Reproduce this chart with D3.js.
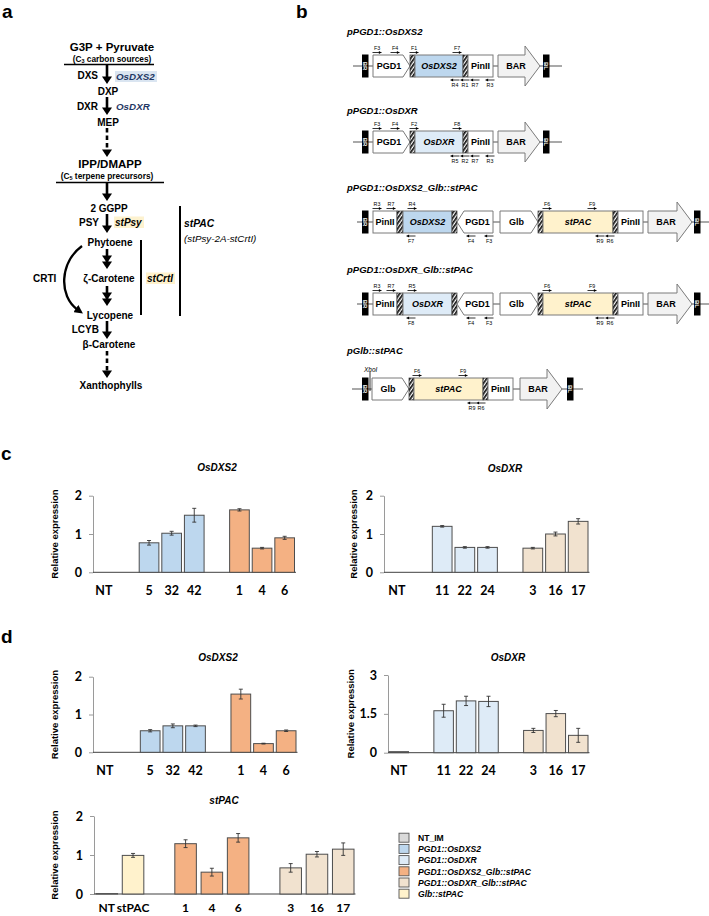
<!DOCTYPE html>
<html><head><meta charset="utf-8">
<script src="https://cdn.jsdelivr.net/npm/d3@7"></script>
<style>body{margin:0;background:#fff} svg{display:block}</style>
</head><body>
<svg id="fig" width="709" height="916" xmlns="http://www.w3.org/2000/svg"></svg>
<script>
// ---------------- DATA ----------------
const legendLabels = ["NT_IM","PGD1::OsDXS2","PGD1::OsDXR","PGD1::OsDXS2_Glb::stPAC","PGD1::OsDXR_Glb::stPAC","Glb::stPAC"];
const legendColors = ["#d9d9d9","#bdd7ee","#deebf7","#f4b183","#f1e2cf","#fff2cc"];

const dxs2Cats = ["NT","gapA","5","32","42","gapB","1","4","6"];
const dxs2Groups = ["NT_IM",null,"PGD1::OsDXS2","PGD1::OsDXS2","PGD1::OsDXS2",null,"PGD1::OsDXS2_Glb::stPAC","PGD1::OsDXS2_Glb::stPAC","PGD1::OsDXS2_Glb::stPAC"];
const dxrCats = ["NT","gapA","11","22","24","gapB","3","16","17"];
const dxrGroups = ["NT_IM",null,"PGD1::OsDXR","PGD1::OsDXR","PGD1::OsDXR",null,"PGD1::OsDXR_Glb::stPAC","PGD1::OsDXR_Glb::stPAC","PGD1::OsDXR_Glb::stPAC"];

const cDXS2Vals = [0,null,0.77,1.02,1.49,null,1.63,0.63,0.90];
const cDXS2Errs = [0,null,0.06,0.05,0.18,null,0.03,0.02,0.04];
const cDXRVals  = [0,null,1.20,0.65,0.65,null,0.63,1.00,1.33];
const cDXRErrs  = [0,null,0.02,0.02,0.02,null,0.02,0.05,0.07];

const dDXS2Vals = [0,null,0.57,0.70,0.70,null,1.54,0.23,0.57];
const dDXS2Errs = [0,null,0.03,0.05,0.02,null,0.13,0.01,0.02];
const dDXRVals  = [0.04,null,1.62,2.00,1.98,null,0.86,1.51,0.67];
const dDXRErrs  = [0,null,0.25,0.18,0.20,null,0.08,0.12,0.27];

const stPACCats = ["NT","stPAC","gapA","1","4","6","gapB","3","16","17"];
const stPACGroups = ["NT_IM","Glb::stPAC",null,"PGD1::OsDXS2_Glb::stPAC","PGD1::OsDXS2_Glb::stPAC","PGD1::OsDXS2_Glb::stPAC",null,"PGD1::OsDXR_Glb::stPAC","PGD1::OsDXR_Glb::stPAC","PGD1::OsDXR_Glb::stPAC"];
const stPACVals = [0.01,0.99,null,1.29,0.56,1.44,null,0.67,1.02,1.15];
const stPACErrs = [0,0.05,null,0.10,0.10,0.11,null,0.11,0.07,0.16];

const ticks2 = [0,1,2];
const ticks3 = [0,1.5,3];

// ---------------- SETUP ----------------
const svg = d3.select("#fig");
const ARIAL = "'Liberation Sans', Arial, Helvetica, sans-serif";
const CAL = "Lato, 'Open Sans', sans-serif";
const color = d3.scaleOrdinal().domain(legendLabels).range(legendColors);

const defs = svg.append("defs");
const pat = defs.append("pattern").attr("id","hatch").attr("width",3).attr("height",3)
  .attr("patternUnits","userSpaceOnUse").attr("patternTransform","rotate(35)");
pat.append("rect").attr("width",3).attr("height",3).attr("fill","#fff");
pat.append("rect").attr("width",1.7).attr("height",3).attr("fill","#111");
defs.append("marker").attr("id","ah").attr("viewBox","0 0 10 10").attr("refX",3).attr("refY",5)
  .attr("markerWidth",3.6).attr("markerHeight",3.6).attr("orient","auto")
  .append("path").attr("d","M0,0 L10,5 L0,10 Z").attr("fill","#000");

// panel letters
[["a",2,17.5],["b",296,17.5],["c",1,460],["d",1,643]].forEach(([t,x,y])=>{
  svg.append("text").attr("x",x).attr("y",y).text(t).attr("font-family",ARIAL)
    .attr("font-weight","bold").attr("font-size",19);
});

// ---------------- PANEL A ----------------
const A = svg.append("g").attr("font-family",ARIAL).attr("font-weight","bold");
function txt(g,x,y,s,size,anchor,opts={}){
  const t = g.append("text").attr("x",x).attr("y",y).attr("font-size",size)
    .attr("text-anchor",anchor||"start").text(s);
  if(opts.italic) t.attr("font-style","italic");
  if(opts.weight) t.attr("font-weight",opts.weight);
  if(opts.fill) t.attr("fill",opts.fill);
  return t;
}
function vArrow(x,y1,y2,opts={}){
  const hh=7.5;
  A.append("line").attr("x1",x).attr("x2",x).attr("y1",y1).attr("y2",y2-hh+1)
    .attr("stroke","#000").attr("stroke-width",2.6)
    .attr("stroke-dasharray",opts.dashed?"4.5,3":null);
  A.append("path").attr("d",`M${x-5},${y2-hh} L${x+5},${y2-hh} L${x},${y2} Z`).attr("fill","#000");
  if(opts.double){
    A.append("path").attr("d",`M${x-5},${y2-hh-6} L${x+5},${y2-hh-6} L${x},${y2-6} Z`).attr("fill","#000");
  }
}
function hl(x,y,w,h,fill){A.append("rect").attr("x",x).attr("y",y).attr("width",w).attr("height",h).attr("fill",fill);}

txt(A,112,51,"G3P + Pyruvate",11.5,"middle");
const t1 = txt(A,112,61.5,"(C",8.3,"middle");
t1.append("tspan").attr("font-size",5.5).attr("dy",1.5).text("3");
t1.append("tspan").attr("dy",-1.5).text(" carbon sources)");
A.append("line").attr("x1",64).attr("x2",154).attr("y1",64.5).attr("y2",64.5).attr("stroke","#000").attr("stroke-width",1.6);
txt(A,98,79,"DXS",10,"end");
vArrow(107,65,84);
hl(115,71,42,11,"#dae5f1");
txt(A,116,79.5,"OsDXS2",9.8,"start",{italic:true,fill:"#1f3864"});
txt(A,108,94.5,"DXP",10,"middle");
txt(A,98,109.5,"DXR",10,"end");
vArrow(107,97,115);
txt(A,116,110,"OsDXR",9.8,"start",{italic:true,fill:"#1f3864"});
txt(A,108,125.5,"MEP",10,"middle");
vArrow(107,128,157,{dashed:true});
txt(A,110,167.5,"IPP/DMAPP",11.5,"middle");
const t2 = txt(A,107,178.5,"(C",8.3,"middle");
t2.append("tspan").attr("font-size",5.5).attr("dy",1.5).text("5");
t2.append("tspan").attr("dy",-1.5).text(" terpene precursors)");
A.append("line").attr("x1",56).attr("x2",164).attr("y1",182.5).attr("y2",182.5).attr("stroke","#000").attr("stroke-width",1.6);
vArrow(107,183,201);
txt(A,109,211.5,"2 GGPP",10,"middle");
txt(A,99,225.5,"PSY",10,"end");
vArrow(107,214,233);
hl(114,216.5,30,11.5,"#fdf2cf");
txt(A,115,225.5,"stPsy",10,"start",{italic:true});
txt(A,110,245.5,"Phytoene",10,"middle");
vArrow(107,249,269,{double:true});
txt(A,109,281.5,"ζ-Carotene",10,"middle");
vArrow(107,286,306,{double:true});
txt(A,110,318.5,"Lycopene",10,"middle");
txt(A,99,332.5,"LCYB",10,"end");
vArrow(107,321,339);
txt(A,109,347.5,"β-Carotene",10,"middle");
vArrow(107,351,378,{dashed:true});
txt(A,111,388.5,"Xanthophylls",10,"middle");
txt(A,33,281.5,"CRTI",10,"start");
A.append("path").attr("d","M82,246 C60,262 58,296 78,310").attr("fill","none")
  .attr("stroke","#000").attr("stroke-width",2.4).attr("marker-end","url(#ah)");
A.append("line").attr("x1",141).attr("x2",141).attr("y1",240).attr("y2",315).attr("stroke","#000").attr("stroke-width",2);
hl(146,272.5,29,11.5,"#fff2cc");
txt(A,147,281.5,"stCrtI",10,"start",{italic:true});
A.append("line").attr("x1",180).attr("x2",180).attr("y1",206).attr("y2",316).attr("stroke","#000").attr("stroke-width",2);
txt(A,184,226.5,"stPAC",10.3,"start",{italic:true});
txt(A,184,241.5,"(stPsy-2A-stCrtI)",9.8,"start",{italic:true,weight:"normal"});

// ---------------- PANEL B ----------------
const B = svg.append("g").attr("font-family",ARIAL).attr("font-weight","bold");
const H = 11;
function bLine(x0,x1,cy){B.append("line").attr("x1",x0).attr("x2",x1).attr("y1",cy).attr("y2",cy).attr("stroke","#555").attr("stroke-width",1.2);}
function bBorder(x0,cy,lab){
  B.append("rect").attr("x",x0).attr("y",cy-11.5).attr("width",6.5).attr("height",23).attr("fill","#000");
  B.append("text").attr("transform",`translate(${x0+3.25},${cy}) rotate(90)`).attr("text-anchor","middle")
    .attr("dy","0.35em").attr("font-size",6).attr("fill","#fff").text(lab);
}
function bLabel(x,cy,lab,it){
  const t=B.append("text").attr("x",x).attr("y",cy+3.2).attr("text-anchor","middle").attr("font-size",9).text(lab);
  if(it) t.attr("font-style","italic");
}
function bBox(x0,x1,cy,fill,lab,it){
  B.append("rect").attr("x",x0).attr("y",cy-H).attr("width",x1-x0).attr("height",2*H).attr("fill",fill).attr("stroke","#7a7a7a").attr("stroke-width",1);
  bLabel((x0+x1)/2,cy,lab,it);
}
function bPent(x0,x1,cy,dir,lab){
  const p = dir>0 ? `M${x0},${cy-H} L${x1-7},${cy-H} L${x1},${cy} L${x1-7},${cy+H} L${x0},${cy+H} Z`
                  : `M${x0},${cy} L${x0+7},${cy-H} L${x1},${cy-H} L${x1},${cy+H} L${x0+7},${cy+H} Z`;
  B.append("path").attr("d",p).attr("fill","#fff").attr("stroke","#7a7a7a").attr("stroke-width",1);
  bLabel((x0+x1)/2+(dir>0?-2.5:2.5),cy,lab,false);
}
function bHatch(x0,x1,cy){
  B.append("rect").attr("x",x0).attr("y",cy-H).attr("width",x1-x0).attr("height",2*H).attr("fill","url(#hatch)").attr("stroke","#333").attr("stroke-width",0.7);
}
function bBar(x0,x1,cy){
  const xh=x1-15;
  B.append("path").attr("d",`M${x0},${cy-H} L${xh},${cy-H} L${xh},${cy-20} L${x1},${cy} L${xh},${cy+20} L${xh},${cy+H} L${x0},${cy+H} Z`)
    .attr("fill","#f2f2f2").attr("stroke","#7a7a7a").attr("stroke-width",1);
  bLabel(x0+18,cy,"BAR",false);
}
function primer(x,cy,lab,top){
  const ya = top? cy-13.5 : cy+14;
  const dir = top? 1 : -1;
  B.append("line").attr("x1",x-4.5).attr("x2",x+4.5).attr("y1",ya).attr("y2",ya).attr("stroke","#000").attr("stroke-width",0.8);
  const tip = x+4.5*dir;
  B.append("path").attr("d",`M${tip},${ya} L${tip-2.6*dir},${ya-1.6} L${tip-2.6*dir},${ya+1.6} Z`).attr("fill","#000");
  B.append("text").attr("x",x).attr("y",top?cy-15.8:cy+20.5).attr("text-anchor","middle")
    .attr("font-size",5.3).attr("font-weight","normal").text(lab);
}
function bTitle(y,s){B.append("text").attr("x",347).attr("y",y).attr("font-size",9.5).attr("font-style","italic").text(s);}

// construct 1
let cy=66;
bTitle(35,"pPGD1::OsDXS2");
bLine(353,562,cy); bBorder(362,cy,"BR"); bPent(373,410,cy,1,"PGD1"); bHatch(410,415,cy);
bBox(415,463,cy,"#bdd7ee","OsDXS2",true); bHatch(463,468,cy); bBox(468,493,cy,"#fff","PinII",false);
bBar(498,540,cy); bBorder(543,cy,"BL");
[["F3",377],["F4",395],["F1",414],["F7",457]].forEach(([l,x])=>primer(x,cy,l,true));
[["R4",455],["R1",465],["R7",475],["R3",490]].forEach(([l,x])=>primer(x,cy,l,false));

// construct 2
cy=142;
bTitle(114,"pPGD1::OsDXR");
bLine(353,562,cy); bBorder(362,cy,"BR"); bPent(373,410,cy,1,"PGD1"); bHatch(410,415,cy);
bBox(415,463,cy,"#deebf7","OsDXR",true); bHatch(463,468,cy); bBox(468,493,cy,"#fff","PinII",false);
bBar(498,540,cy); bBorder(543,cy,"BL");
[["F3",377],["F4",395],["F2",414],["F8",457]].forEach(([l,x])=>primer(x,cy,l,true));
[["R5",455],["R2",465],["R7",475],["R3",490]].forEach(([l,x])=>primer(x,cy,l,false));

// constructs 3 & 4
function dual(cy,title,gene,fill,rtop,fbot){
  bTitle(cy-31,title);
  bLine(357,712,cy); bBorder(362,cy,"BR"); bBox(373,397,cy,"#fff","PinII",false); bHatch(397,403,cy);
  bBox(403,452,cy,fill,gene,true); bHatch(452,457,cy); bPent(457,493,cy,-1,"PGD1");
  bPent(500,538,cy,1,"Glb"); bHatch(538,543,cy); bBox(543,613,cy,"#fff2cc","stPAC",true);
  bHatch(613,618,cy); bBox(618,643,cy,"#fff","PinII",false); bBar(648,692,cy); bBorder(694,cy,"BL");
  [["R3",377],["R7",391],[rtop,412],["F6",547],["F9",592]].forEach(([l,x])=>primer(x,cy,l,true));
  [[fbot,411],["F4",471],["F3",489],["R9",600],["R6",610]].forEach(([l,x])=>primer(x,cy,l,false));
}
dual(222,"pPGD1::OsDXS2_Glb::stPAC","OsDXS2","#bdd7ee","R4","F7");
dual(304,"pPGD1::OsDXR_Glb::stPAC","OsDXR","#deebf7","R5","F8");

// construct 5
cy=389;
bTitle(354,"pGlb::stPAC");
bLine(352,583,cy); bBorder(362,cy,"BR");
B.append("line").attr("x1",370).attr("x2",370).attr("y1",371).attr("y2",cy+2).attr("stroke","#000").attr("stroke-width",0.8);
B.append("text").attr("x",364).attr("y",372).attr("font-size",6.5).attr("font-style","italic").attr("font-weight","normal").text("XhoI");
bPent(372,409,cy,1,"Glb"); bHatch(409,414,cy); bBox(414,483,cy,"#fff2cc","stPAC",true);
bHatch(483,488,cy); bBox(488,513,cy,"#fff","PinII",false); bBar(520,562,cy); bBorder(567,cy,"BL");
[["F6",417],["F9",463]].forEach(([l,x])=>primer(x,cy,l,true));
[["R9",472],["R6",481]].forEach(([l,x])=>primer(x,cy,l,false));

// ---------------- BAR CHARTS ----------------
function barChart(cfg){
  const g = svg.append("g");
  const x = d3.scaleBand().domain(cfg.cats).range([cfg.bx0,cfg.bx1]).paddingInner(cfg.pad).paddingOuter(0);
  const y = d3.scaleLinear().domain([0,cfg.max]).range([cfg.yb,cfg.yt]);
  const ya = g.append("g").attr("transform",`translate(${cfg.ax},0)`)
    .call(d3.axisLeft(y).tickValues(cfg.ticks).tickSize(4).tickSizeOuter(0).tickPadding(7).tickFormat(d3.format("~g")));
  ya.select(".domain").attr("stroke","#9a9a9a");
  ya.selectAll(".tick line").attr("stroke","#9a9a9a");
  ya.selectAll("text").attr("font-family",CAL).attr("font-weight","bold").attr("font-size",12.5).attr("fill","#000");
  const data = cfg.cats.map((c,i)=>({c,v:cfg.vals[i],e:cfg.errs[i],grp:cfg.groups[i]})).filter(d=>d.v!=null);
  g.append("line").attr("x1",cfg.ax).attr("x2",cfg.bx1+1.5).attr("y1",y(0)).attr("y2",y(0)).attr("stroke","#404040").attr("stroke-width",1);
  g.selectAll("rect.bar").data(data).join("rect").attr("class","bar")
    .attr("x",d=>x(d.c)).attr("width",x.bandwidth())
    .attr("y",d=>y(d.v)).attr("height",d=>y(0)-y(d.v))
    .attr("fill",d=>color(d.grp)).attr("stroke","#4d4d4d").attr("stroke-width",1);
  const eb = data.filter(d=>d.e>0);
  const cx = d=>x(d.c)+x.bandwidth()/2;
  g.selectAll("line.err").data(eb).join("line").attr("class","err")
    .attr("x1",cx).attr("x2",cx).attr("y1",d=>y(d.v-d.e)).attr("y2",d=>y(d.v+d.e)).attr("stroke","#333").attr("stroke-width",0.9);
  ["lo","hi"].forEach(k=>{
    g.selectAll("line.cap"+k).data(eb).join("line").attr("class","cap"+k)
      .attr("x1",d=>cx(d)-2).attr("x2",d=>cx(d)+2)
      .attr("y1",d=>y(k==="lo"?d.v-d.e:d.v+d.e)).attr("y2",d=>y(k==="lo"?d.v-d.e:d.v+d.e))
      .attr("stroke","#333").attr("stroke-width",0.9);
  });
  const xa = g.append("g").attr("transform",`translate(0,${y(0)})`)
    .call(d3.axisBottom(x).tickSize(0).tickPadding(cfg.lp||13.5).tickFormat(d=>d.startsWith("gap")?"":d));
  xa.select(".domain").remove();
  xa.selectAll("text").attr("font-family",CAL).attr("font-weight","bold").attr("font-size",cfg.lf||12.5).attr("fill","#000");
  g.append("text").attr("x",cfg.tx).attr("y",cfg.ty).attr("text-anchor","middle").attr("font-family",ARIAL)
    .attr("font-weight","bold").attr("font-style","italic").attr("font-size",10).text(cfg.title);
  g.append("text").attr("transform",`translate(${cfg.lx},${(cfg.yb+cfg.yt)/2}) rotate(-90)`).attr("text-anchor","middle")
    .attr("font-family",ARIAL).attr("font-weight","bold").attr("font-size",9.5).text("Relative expression");
}

barChart({cats:dxs2Cats,vals:cDXS2Vals,errs:cDXS2Errs,groups:dxs2Groups,max:2,ticks:ticks2,
  ax:93,bx0:94,bx1:294.5,pad:0.13,yb:572.3,yt:495.7,title:"OsDXS2",tx:217,ty:471,lx:58});
barChart({cats:dxrCats,vals:cDXRVals,errs:cDXRErrs,groups:dxrGroups,max:2,ticks:ticks2,
  ax:384,bx0:387,bx1:588,pad:0.13,yb:572.3,yt:495.7,title:"OsDXR",tx:505,ty:472,lx:357});
barChart({cats:dxs2Cats,vals:dDXS2Vals,errs:dDXS2Errs,groups:dxs2Groups,max:2,ticks:ticks2,
  ax:93,bx0:95,bx1:296,pad:0.13,yb:752.3,yt:676.7,title:"OsDXS2",tx:218,ty:661,lx:58});
barChart({cats:dxrCats,vals:dDXRVals,errs:dDXRErrs,groups:dxrGroups,max:3,ticks:ticks3,
  ax:388,bx0:389,bx1:588,pad:0.13,yb:752.7,yt:675,title:"OsDXR",tx:508,ty:661,lx:354});
barChart({cats:stPACCats,vals:stPACVals,errs:stPACErrs,groups:stPACGroups,max:2,ticks:ticks2,
  ax:94,bx0:96,bx1:354,pad:0.18,yb:894,yt:816,title:"stPAC",tx:224,ty:804,lx:58,lp:9.6,lf:12});

// ---------------- LEGEND ----------------
const L = svg.append("g").attr("font-family",ARIAL).attr("font-weight","bold");
const ly = d3.scalePoint().domain(legendLabels).range([837.7,893.7]);
L.selectAll("rect").data(legendLabels).join("rect").attr("x",399).attr("y",d=>ly(d)-4.5)
  .attr("width",10).attr("height",9).attr("fill",d=>color(d)).attr("stroke","#555").attr("stroke-width",0.9);
L.selectAll("text").data(legendLabels).join("text").attr("x",418).attr("y",d=>ly(d)+3.2)
  .attr("font-size",8.6).attr("font-style",d=>d==="NT_IM"?"normal":"italic").text(d=>d);
</script>
</body></html>
